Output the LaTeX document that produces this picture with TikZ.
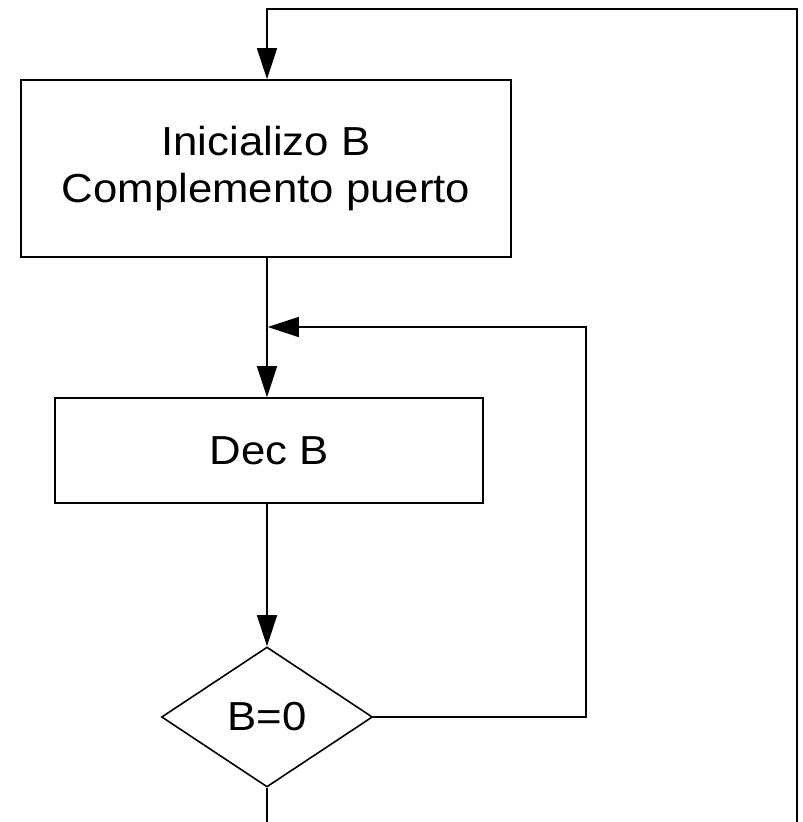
\documentclass[tikz,border=0pt]{standalone}
\usepackage{fontspec}
\setmainfont{Liberation Sans}[FakeStretch=1.08]
\usetikzlibrary{shapes.geometric,arrows.meta}
\begin{document}
\begin{tikzpicture}[x=1pt,y=-1pt,
  every node/.style={font=\fontsize{40.5}{47}\selectfont},
  procbox/.style={draw,line width=1.6pt,inner sep=0pt,align=center},
  decbox/.style={draw,diamond,line width=1.6pt,inner sep=0pt,aspect=1.5,minimum width=211pt,minimum height=140pt},
  conn/.style={line width=1.6pt},
  arr/.style={conn,-{Triangle[length=31pt,width=20pt]}}]
\useasboundingbox[fill=white] (0,0) rectangle (803,822);
\node[procbox,minimum width=490pt,minimum height=177pt] (init) at (266,168.5) {Inicializo B\\Complemento puerto};
\node[procbox,minimum width=428pt,minimum height=105pt] (dec) at (269,450.5) {Dec B};
\node[decbox] (cond) at (267,717) {B=0};
\coordinate (outEnd) at (797,822);
\coordinate (downEnd) at (267,822);
\coordinate (topR) at (797,9);
\coordinate (topL) at (267,9);
\coordinate (join) at (267,327);
\coordinate (loopR) at (586,327);
\coordinate (loopB) at (586,717);
\draw[arr] (outEnd) -- (topR) -- (topL) -- (init.north -| topL);
\draw[arr] (init.south -| join) -- (dec.north -| join);
\draw[arr] (cond.east) -- (loopB) -- (loopR) -- ([xshift=0.8pt]join);
\draw[arr] (dec.south -| cond.north) -- (cond.north);
\draw[conn] (cond.south) -- (downEnd);
\end{tikzpicture}
\end{document}
